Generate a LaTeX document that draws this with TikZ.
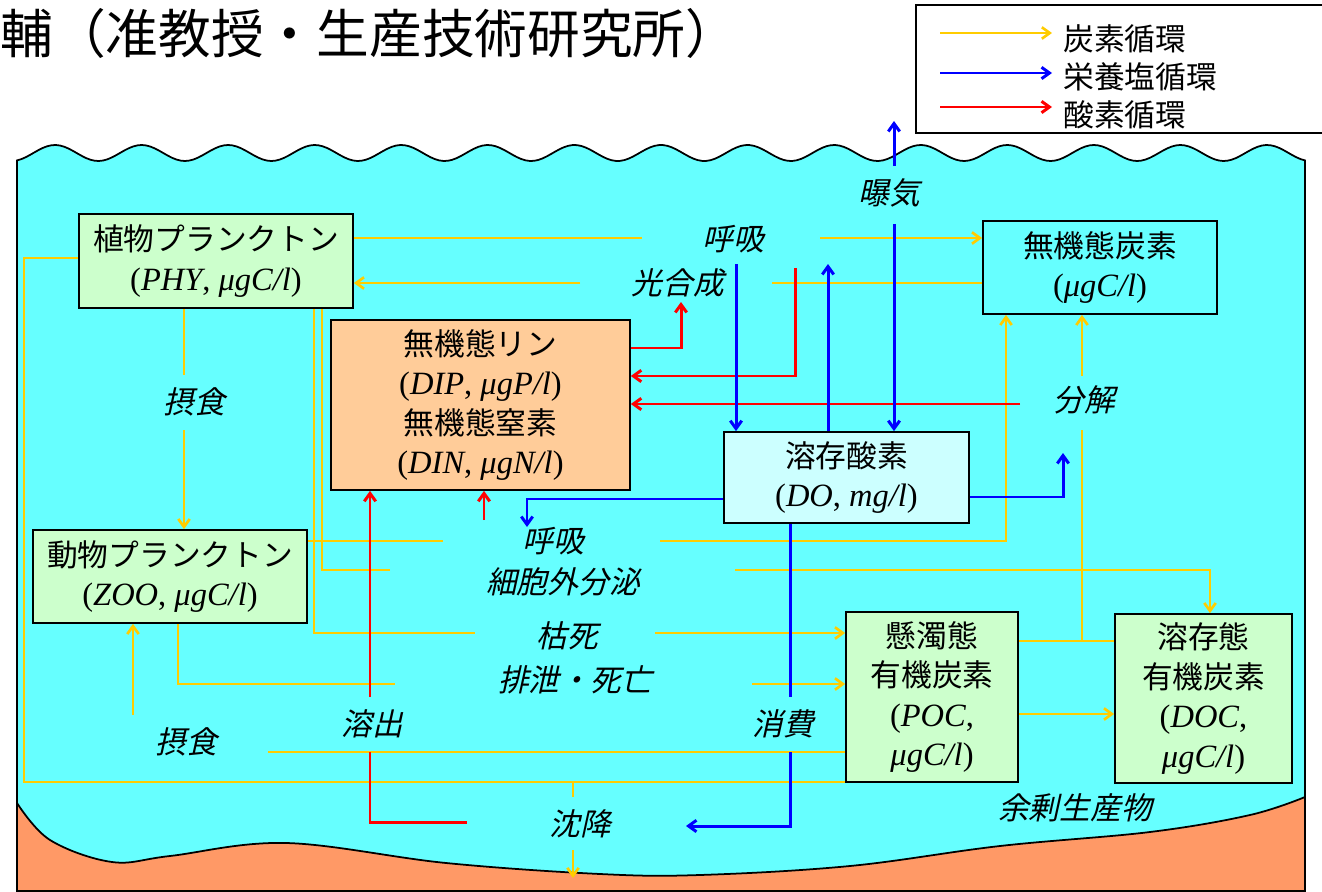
\documentclass[tikz,border=0pt]{standalone}
\usepackage{fontspec}
\setmainfont{Noto Sans CJK JP}
\newfontfamily\jpit[FakeSlant=0.22]{Noto Sans CJK JP}
\newfontfamily\tms{Liberation Serif}
\usetikzlibrary{arrows.meta}
\definecolor{water}{HTML}{66FFFF}
\definecolor{cgreen}{HTML}{CCFFCC}
\definecolor{cdip}{HTML}{FFCC99}
\definecolor{cdo}{HTML}{CCFFFF}
\definecolor{cfloor}{HTML}{FF9966}
\definecolor{cyel}{HTML}{FFCC00}
\definecolor{cblue}{HTML}{0000FF}
\definecolor{cred}{HTML}{FF0000}
\newcommand{\lat}[1]{{\tms\fontsize{18.5pt}{22.5pt}\selectfont #1}}
\pgfdeclarelayer{back}
\pgfdeclarelayer{bg}
\pgfsetlayers{back,bg,main}
\begin{document}
\begin{tikzpicture}[x=0.02cm,y=-0.02cm,
  box/.style={draw=black, line width=1pt, align=center, inner sep=0pt, font=\fontsize{17.5pt}{22.5pt}\selectfont},
  lab/.style={inner sep=0pt, font=\jpit\fontsize{17.5pt}{21pt}\selectfont},
  yel/.style={draw=cyel, line width=1.5pt},
  blu/.style={draw=cblue, line width=1.7pt},
  rd/.style={draw=cred, line width=1.7pt},
  arr/.style={-{Straight Barb[length=4.5pt,width=6.5pt]}},
  legtext/.style={anchor=west, inner sep=0pt, font=\fontsize{17.5pt}{21pt}\selectfont}
]
\useasboundingbox (0,0) rectangle (1322,892);

% title
\node[anchor=west, inner sep=0pt, font=\fontsize{30pt}{36pt}\selectfont] (title) at (0,33) {輔（准教授・生産技術研究所）};

% legend
\draw[line width=1pt, fill=white] (916,5) rectangle (1330,133);
\node[legtext] (lg1) at (1063,39) {炭素循環};
\node[legtext] (lg2) at (1063,77) {栄養塩循環};
\node[legtext] (lg3) at (1063,115) {酸素循環};
\coordinate (la1) at (940,33);  \coordinate (lb1) at (1052,33);
\coordinate (la2) at (940,73);  \coordinate (lb2) at (1052,73);
\coordinate (la3) at (940,107); \coordinate (lb3) at (1052,107);
\draw[yel,arr] (la1) -- (lb1);
\draw[blu,arr] (la2) -- (lb2);
\draw[rd,arr] (la3) -- (lb3);

% boxes
\node[box, fill=cgreen, minimum width=5.48cm, minimum height=1.88cm] (PHY) at (216,261)
  {植物プランクトン\\\lat{(\textit{PHY}, \textit{μgC/l})}};
\node[box, fill=cgreen, minimum width=5.48cm, minimum height=1.86cm] (ZOO) at (170,576.5)
  {動物プランクトン\\\lat{(\textit{ZOO}, \textit{μgC/l})}};
\node[box, fill=cdip, minimum width=5.98cm, minimum height=3.4cm] (DIPN) at (480.5,405)
  {無機態リン\\\lat{(\textit{DIP}, \textit{μgP/l})}\\無機態窒素\\\lat{(\textit{DIN}, \textit{μgN/l})}};
\node[box, fill=cdo, minimum width=4.9cm, minimum height=1.82cm] (DO) at (846.5,477.5)
  {溶存酸素\\\lat{(\textit{DO}, \textit{mg/l})}};
\node[box, fill=water, minimum width=4.68cm, minimum height=1.86cm] (IC) at (1100,267.5)
  {無機態炭素\\\lat{(\textit{μgC/l})}};
\node[box, fill=cgreen, minimum width=3.44cm, minimum height=3.4cm] (POC) at (932,697)
  {懸濁態\\有機炭素\\\lat{(\textit{POC},}\\\lat{\textit{μgC/l})}};
\node[box, fill=cgreen, minimum width=3.54cm, minimum height=3.38cm] (DOC) at (1203.5,698.5)
  {溶存態\\有機炭素\\\lat{(\textit{DOC},}\\\lat{\textit{μgC/l})}};

% labels
\node[lab] (Lbk) at (889,193) {曝気};
\node[lab] (Lr1) at (733,239) {呼吸};
\node[lab] (Lps) at (678,283) {光合成};
\node[lab] (Lg1) at (194,402) {摂食};
\node[lab] (Ldc) at (1084,400) {分解};
\node[lab] (Lr2) at (553,541) {呼吸};
\node[lab] (Lex) at (563,582) {細胞外分泌};
\node[lab] (Lkd) at (567,636) {枯死};
\node[lab] (Lhs) at (575,680) {排泄・死亡};
\node[lab] (Lyo) at (372,724) {溶出};
\node[lab] (Lsh) at (783,724) {消費};
\node[lab] (Lg2) at (186,742) {摂食};
\node[lab] (Lcn) at (580,824) {沈降};
\node[lab] (Lys) at (1075,808) {余剰生産物};

% water and floor
\begin{pgfonlayer}{back}
\filldraw[fill=cfloor, draw=black, line width=1pt] (17,780) rectangle (1305,891);
\filldraw[fill=water, draw=black, line width=1pt]
  plot[domain=17:1305, samples=300] (\x,{153-8*cos(4.15849*(\x-55))})
  -- plot[smooth, tension=0.6] coordinates {(1305,797) (1250,815) (1150,832) (1000,846) (850,866) (700,875) (600,874) (446,863) (286,843) (170,856) (112,862) (50,840) (17,803)}
  -- cycle;
\end{pgfonlayer}

% coordinates
\coordinate (c1) at (642,238);  \coordinate (c2) at (820,238);
\coordinate (c3) at (772,283);  \coordinate (c4) at (580,283);
\coordinate (c5) at (184,375);  \coordinate (c6) at (184,430);
\coordinate (c7) at (24,258);   \coordinate (c8) at (24,782);
\coordinate (c9) at (953,782);
\coordinate (c10) at (573,782); \coordinate (c11) at (573,797);
\coordinate (c12) at (573,850); \coordinate (c13) at (573,878);
\coordinate (c14) at (268,752); \coordinate (c15) at (133,715);
\coordinate (c16) at (178,684); \coordinate (c17) at (395,684);
\coordinate (c18) at (752,684);
\coordinate (c19) at (314,633); \coordinate (c20) at (475,633);
\coordinate (c21) at (655,633);
\coordinate (c22) at (322,570); \coordinate (c23) at (390,570);
\coordinate (c24) at (735,570); \coordinate (c25) at (1210,570);
\coordinate (c26) at (443,541); \coordinate (c27) at (660,541);
\coordinate (c28) at (1006,541);
\coordinate (c29) at (1082,641); \coordinate (c30) at (1082,430);
\coordinate (c31) at (1082,376); \coordinate (c32) at (1060,714);
\coordinate (d1) at (681,348);  \coordinate (d2) at (681,302);
\coordinate (d3) at (795,268);  \coordinate (d4) at (795,376);
\coordinate (d5) at (1020,404); \coordinate (d6) at (484,520);
\coordinate (d7) at (370,697);  \coordinate (d8) at (370,752);
\coordinate (d9) at (370,822);  \coordinate (d10) at (467,822);
\coordinate (b1) at (894,224);  \coordinate (b2) at (894,166);
\coordinate (b3) at (894,121);  \coordinate (b4) at (736,264);
\coordinate (b5) at (828,264);  \coordinate (b6) at (527,499);
\coordinate (b7) at (527,527);  \coordinate (b8) at (1063,497);
\coordinate (b9) at (1063,453); \coordinate (b10) at (790,697);
\coordinate (b11) at (790,752); \coordinate (b12) at (790,826);
\coordinate (b13) at (686,826);

\begin{pgfonlayer}{bg}
% carbon (yellow)
\draw[yel] (PHY.east|-c1) -- (c1);
\draw[yel,arr] (c2) -- (IC.west|-c2);
\draw[yel] (IC.west|-c3) -- (c3);
\draw[yel,arr] (c4) -- (PHY.east|-c4);
\draw[yel] (PHY.south-|c5) -- (c5);
\draw[yel,arr] (c6) -- (ZOO.north-|c6);
\draw[yel] (PHY.west|-c7) -- (c7) -- (c8) -- (c9);
\draw[yel] (c10) -- (c11);
\draw[yel,arr] (c12) -- (c13);
\draw[yel] (POC.west|-c14) -- (c14);
\draw[yel,arr] (c15) -- (ZOO.south-|c15);
\draw[yel] (ZOO.south-|c16) -- (c16) -- (c17);
\draw[yel,arr] (c18) -- (POC.west|-c18);
\draw[yel] (PHY.south-|c19) -- (c19) -- (c20);
\draw[yel,arr] (c21) -- (POC.west|-c21);
\draw[yel] (PHY.south-|c22) -- (c22) -- (c23);
\draw[yel,arr] (c24) -- (c25) -- (DOC.north-|c25);
\draw[yel] (ZOO.east|-c26) -- (c26);
\draw[yel,arr] (c27) -- (c28) -- (IC.south-|c28);
\draw[yel] (POC.east|-c29) -- (DOC.west|-c29);
\draw[yel] (c29) -- (c30);
\draw[yel,arr] (c31) -- (IC.south-|c31);
\draw[yel,arr] (POC.east|-c32) -- (DOC.west|-c32);
% oxygen (red)
\draw[rd,arr] (DIPN.east|-d1) -- (d1) -- (d2);
\draw[rd,arr] (d3) -- (d4) -- (DIPN.east|-d4);
\draw[rd,arr] (d5) -- (DIPN.east|-d5);
\draw[rd,arr] (d6) -- (DIPN.south-|d6);
\draw[rd,arr] (d7) -- (DIPN.south-|d7);
\draw[rd] (d8) -- (d9) -- (d10);
% nutrients (blue)
\draw[blu,arr] (b1) -- (DO.north-|b1);
\draw[blu,arr] (b2) -- (b3);
\draw[blu,arr] (b4) -- (DO.north-|b4);
\draw[blu,arr] (DO.north-|b5) -- (b5);
\draw[blu,arr] (DO.west|-b6) -- (b6) -- (b7);
\draw[blu,arr] (DO.east|-b8) -- (b8) -- (b9);
\draw[blu] (DO.south-|b10) -- (b10);
\draw[blu,arr] (b11) -- (b12) -- (b13);
\end{pgfonlayer}
\end{tikzpicture}
\end{document}
